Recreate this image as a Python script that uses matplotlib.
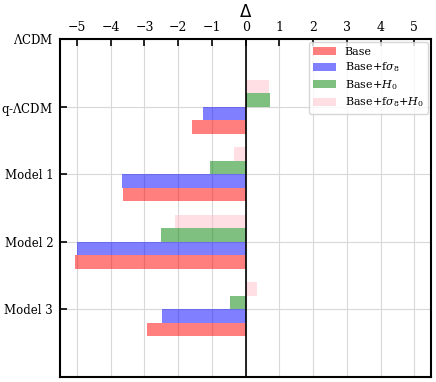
import numpy as np
import matplotlib.pyplot as plt

models = [r'$\Lambda$CDM', r'q-$\Lambda$CDM', 'Model 1', 'Model 2', 'Model 3']
base = [0.0, -1.6, -3.64, -5.05, -2.93]
base_fs8 = [0.0, -1.27, -3.68, -4.99, -2.48]
base_h0 = [0.0, 0.71, -1.07, -2.5, -0.46]
base_fs8_h0 = [0.0, 0.69, -0.35, -2.11, 0.35]

labels = ['Base', r'Base+f$\sigma_8$', r'Base+$H_0$', r'Base+f$\sigma_8$+$H_0$']
colors = ['red', 'blue', 'green', 'pink']
offsets = [0.3, 0.1, -0.1, -0.3]

plt.rcParams['font.family'] = 'DejaVu Serif'
plt.rcParams['mathtext.fontset'] = 'dejavuserif'

fig, ax = plt.subplots(figsize=(4.36, 3.82), dpi=100)
fig.subplots_adjust(left=0.138, right=0.989, top=0.898, bottom=0.013)

y = np.arange(len(models))
for vals, lab, col, off in zip([base, base_fs8, base_h0, base_fs8_h0], labels, colors, offsets):
    ax.barh(y + off, vals, height=0.2, color=col, alpha=0.5, label=lab)

ax.axvline(0, color='black', lw=1.2)
ax.set_xlim(-5.5, 5.5)
ax.set_ylim(5, 0)
ax.set_xticks(np.arange(-5, 6))
ax.set_yticks(y)
ax.set_yticklabels(models, fontsize=8.5)
ax.xaxis.tick_top()
ax.xaxis.set_label_position('top')
ax.set_xlabel('Δ', fontsize=12, family='DejaVu Sans', labelpad=3)
ax.tick_params(axis='x', labelsize=9, direction='in', top=True, bottom=False, length=5, width=1.2)
ax.tick_params(axis='y', direction='in', length=5, width=1.2, pad=5)
ax.grid(True, color='#d8d8d8', lw=0.8)
ax.set_axisbelow(True)
for s in ax.spines.values():
    s.set_linewidth(1.5)

leg = ax.legend(loc='upper right', fontsize=8, labelspacing=0.34, borderaxespad=0.3)

plt.savefig('out.png', dpi=100)
